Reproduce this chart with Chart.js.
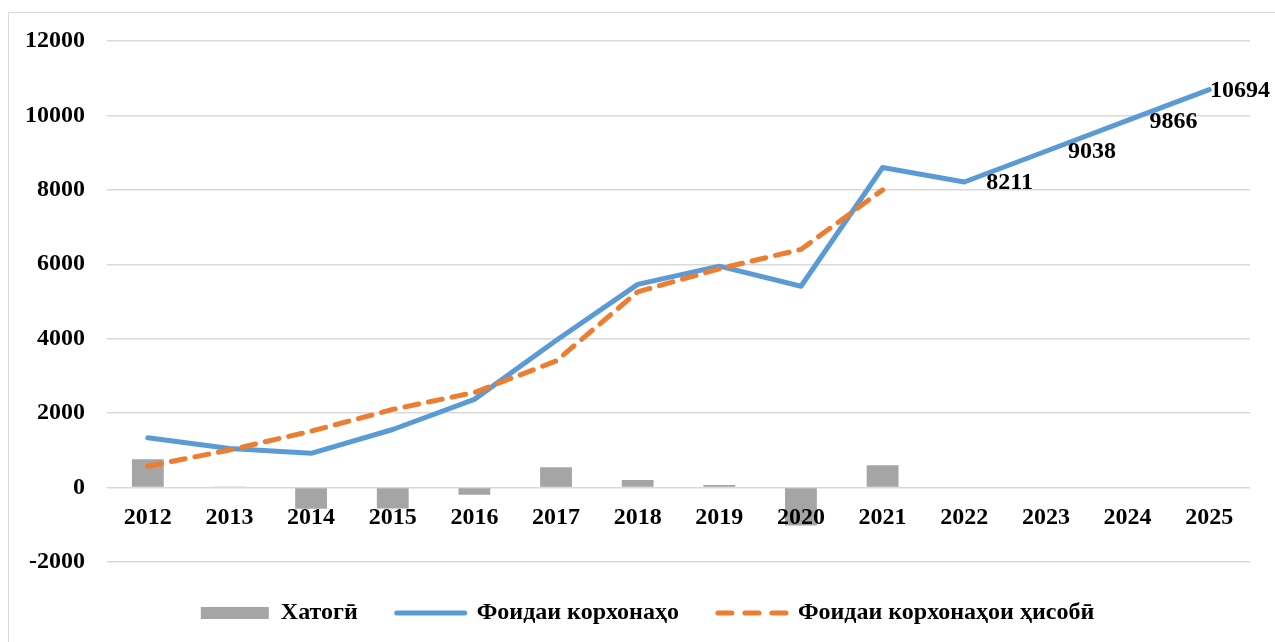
<!DOCTYPE html>
<html>
<head>
<meta charset="utf-8">
<script src="https://cdn.jsdelivr.net/npm/chart.js@4.4.1/dist/chart.umd.min.js"></script>
<style>
  html, body { margin: 0; padding: 0; background: #ffffff; }
  canvas { display: block; }
</style>
</head>
<body>
<canvas id="chart" width="1275" height="642"></canvas>
<script>
// Categories (years)
const years = ['2012', '2013', '2014', '2015', '2016', '2017', '2018',
               '2019', '2020', '2021', '2022', '2023', '2024', '2025'];

// Хатогӣ – deviation between actual and estimated profit
const errorValues = [760, 30, -570, -560, -190, 545, 205, 70, -1020, 600, null, null, null, null];

// Фоидаи корхонаҳо – actual profit, with forecast for 2022–2025
const actualProfit = [1340, 1050, 920, 1560, 2370, 3950, 5460, 5950, 5410, 8600, 8211, 9038, 9866, 10694];

// Фоидаи корхонаҳои ҳисобӣ – estimated profit
const estimatedProfit = [573, 1010, 1515, 2100, 2555, 3400, 5260, 5880, 6400, 8000, null, null, null, null];

// Years whose actual-profit value is printed next to the line
const labeledYears = ['2022', '2023', '2024', '2025'];

// Value axis ticks
const yMin = -2000;
const yMax = 12000;
const yStep = 2000;

const seriesNames = ['Хатогӣ', 'Фоидаи корхонаҳо', 'Фоидаи корхонаҳои ҳисобӣ'];

const FONT_FAMILY = "'Liberation Serif', 'Times New Roman', 'DejaVu Serif', serif";
const boldFont = { family: FONT_FAMILY, size: 24, weight: 'bold' };

const GRAY = '#A5A5A5';
const BLUE = '#5B9BD5';
const ORANGE = '#ED7D31';

// White background and the thin outer frame
const framePlugin = {
  id: 'frame',
  beforeDraw(chart) {
    const ctx = chart.ctx;
    ctx.save();
    ctx.fillStyle = '#ffffff';
    ctx.fillRect(0, 0, chart.width, chart.height);
    ctx.strokeStyle = '#d9d9d9';
    ctx.lineWidth = 1;
    ctx.strokeRect(8.5, 12.5, chart.width, chart.height);
    ctx.restore();
  }
};

// Value labels to the right of the forecast points
const valueLabelPlugin = {
  id: 'valueLabels',
  afterDatasetsDraw(chart) {
    const meta = chart.getDatasetMeta(1);
    const ctx = chart.ctx;
    ctx.save();
    ctx.font = 'bold 24px ' + FONT_FAMILY;
    ctx.fillStyle = '#000000';
    ctx.textAlign = 'left';
    ctx.textBaseline = 'middle';
    years.forEach((yr, i) => {
      if (!labeledYears.includes(yr)) return;
      const pt = meta.data[i];
      const text = String(actualProfit[i]);
      const w = ctx.measureText(text).width;
      const x = Math.min(pt.x + 22, chart.width - 5 - w);
      ctx.fillText(text, x, pt.y + 1);
    });
    ctx.restore();
  }
};

new Chart(document.getElementById('chart'), {
  type: 'bar',
  data: {
    labels: years,
    datasets: [
      {
        type: 'bar',
        label: seriesNames[0],
        data: errorValues,
        backgroundColor: GRAY,
        borderWidth: 0,
        barPercentage: 0.39,
        categoryPercentage: 1.0,
        order: 2
      },
      {
        type: 'line',
        label: seriesNames[1],
        data: actualProfit,
        borderColor: BLUE,
        backgroundColor: BLUE,
        borderWidth: 5,
        borderCapStyle: 'round',
        borderJoinStyle: 'round',
        pointRadius: 0,
        tension: 0,
        fill: false,
        order: 1
      },
      {
        type: 'line',
        label: seriesNames[2],
        data: estimatedProfit,
        borderColor: ORANGE,
        backgroundColor: ORANGE,
        borderWidth: 5,
        borderDash: [14, 10],
        borderCapStyle: 'round',
        borderJoinStyle: 'round',
        pointRadius: 0,
        tension: 0,
        fill: false,
        order: 0
      }
    ]
  },
  options: {
    responsive: false,
    devicePixelRatio: 1,
    animation: false,
    events: [],
    layout: { padding: { top: 41, left: 20, right: 0, bottom: 7 } },
    font: boldFont,
    scales: {
      x: {
        type: 'category',
        position: { y: 0 },
        offset: true,
        grid: { display: false, drawTicks: false },
        border: { display: false },
        ticks: {
          z: 1,
          font: boldFont,
          color: '#000000',
          padding: 16,
          maxRotation: 0,
          autoSkip: false
        },
        afterFit(scale) {
          scale.height = 0;
          scale.paddingRight = 25;
        }
      },
      y: {
        type: 'linear',
        min: yMin,
        max: yMax,
        grid: { color: '#d9d9d9', lineWidth: 1.5, drawTicks: false },
        border: { display: false },
        ticks: {
          stepSize: yStep,
          font: boldFont,
          color: '#000000',
          padding: 22,
          callback: (v) => String(v)
        },
        afterFit(scale) { scale.width = 87; }
      }
    },
    plugins: {
      tooltip: { enabled: false },
      legend: {
        position: 'bottom',
        labels: {
          font: boldFont,
          color: '#000000',
          padding: 39,
          usePointStyle: true,
          pointStyleWidth: 68,
          boxHeight: 12,
          sort: (a, b) => a.datasetIndex - b.datasetIndex,
          generateLabels(chart) {
            const items = Chart.defaults.plugins.legend.labels.generateLabels(chart);
            items.forEach((it) => {
              const ds = chart.data.datasets[it.datasetIndex];
              if (ds.type === 'bar') {
                it.pointStyle = 'rect';
                it.fillStyle = ds.backgroundColor;
                it.lineWidth = 0;
              } else {
                it.pointStyle = 'line';
                it.strokeStyle = ds.borderColor;
                it.lineWidth = 5;
                it.lineCap = 'round';
                it.lineDash = ds.borderDash ? [14, 13] : [];
              }
            });
            return items;
          }
        }
      }
    }
  },
  plugins: [framePlugin, valueLabelPlugin]
});
</script>
</body>
</html>
